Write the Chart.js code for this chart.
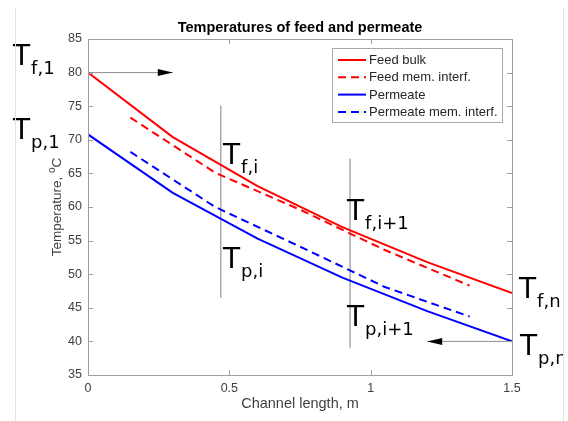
<!DOCTYPE html>
<html>
<head>
<meta charset="utf-8">
<title>Temperatures of feed and permeate</title>
<script src="https://cdn.jsdelivr.net/npm/chart.js@4.4.1/dist/chart.umd.min.js"></script>
<style>
  html, body { margin: 0; padding: 0; background: #fff; }
  #wrap { width: 568px; height: 421px; position: relative; }
</style>
</head>
<body>
<div id="wrap"><canvas id="tempChart" width="568" height="421"></canvas></div>
<script>
// Channel positions (m) and temperatures (°C)
const lengthBulk = [0, 0.3, 0.6, 0.9, 1.2, 1.5];
const feedBulk = [80, 70.4, 63.1, 57.0, 51.8, 47.2];
const permeateBulk = [70.8, 62.1, 55.3, 49.5, 44.5, 40.0];

const lengthInterf = [0.15, 0.45, 0.75, 1.05, 1.35];
const feedInterf = [73.3, 65.1, 59.6, 53.6, 48.3];
const permeateInterf = [68.2, 60.0, 54.1, 48.1, 43.7];

// Section boundaries i and i+1
const sectionX = [0.47, 0.927];
const sectionTop = [75.1, 67.2];
const sectionBottom = [46.5, 39.0];

// Flow direction arrows (feed in at x=0, permeate in at x=1.5)
const arrowFromX = [0, 1.5];
const arrowToX = [0.3, 1.2];
const arrowY = [80, 40];

const xTicks = [0, 0.5, 1, 1.5];
const yTicks = [35, 40, 45, 50, 55, 60, 65, 70, 75, 80, 85];

const pts = (xs, ys) => xs.map((x, i) => ({ x: x, y: ys[i] }));
const DASH = [8, 5];

const datasets = [
    { label: 'Feed bulk', data: pts(lengthBulk, feedBulk), borderColor: '#ff0000', borderWidth: 2 },
    { label: 'Feed mem. interf.', data: pts(lengthInterf, feedInterf), borderColor: '#ff0000', borderWidth: 2, borderDash: DASH },
    { label: 'Permeate', data: pts(lengthBulk, permeateBulk), borderColor: '#0000ff', borderWidth: 2 },
    { label: 'Permeate mem. interf.', data: pts(lengthInterf, permeateInterf), borderColor: '#0000ff', borderWidth: 2, borderDash: DASH }
];
const legendCount = datasets.length;

sectionX.forEach((x, i) => {
    datasets.push({ label: '', data: [{ x: x, y: sectionBottom[i] }, { x: x, y: sectionTop[i] }], borderColor: '#7f7f7f', borderWidth: 1 });
});
arrowFromX.forEach((x, i) => {
    datasets.push({ label: '', data: [{ x: x, y: arrowY[i] }, { x: arrowToX[i], y: arrowY[i] }], borderColor: '#8c8c8c', borderWidth: 1 });
});

const TXT = '#404040';
const FONT = '"Liberation Sans", Arial, sans-serif';

// Big T labels: [subscript, pixel x, baseline y]
const tLabels = [
    ['f,1', 13, 65], ['p,1', 13, 139],
    ['f,i', 223, 164], ['p,i', 223, 268],
    ['f,i+1', 347, 220], ['p,i+1', 347, 326],
    ['f,n', 519, 298], ['p,n', 520, 355]
];

const decor = {
    id: 'decor',
    afterDraw(chart) {
        const c = chart.ctx, a = chart.chartArea;
        const xs = chart.scales.x, ys = chart.scales.y;
        c.save();

        // axes box with inward ticks
        c.strokeStyle = '#9e9e9e';
        c.lineWidth = 1;
        c.strokeRect(a.left + 0.5, a.top + 0.5, a.right - a.left, a.bottom - a.top);
        c.beginPath();
        yTicks.forEach(v => {
            const y = Math.round(ys.getPixelForValue(v)) + 0.5;
            c.moveTo(a.left, y); c.lineTo(a.left + 5, y);
            c.moveTo(a.right, y); c.lineTo(a.right - 5, y);
        });
        xTicks.forEach(v => {
            const x = Math.round(xs.getPixelForValue(v)) + 0.5;
            c.moveTo(x, a.bottom); c.lineTo(x, a.bottom - 5);
            c.moveTo(x, a.top); c.lineTo(x, a.top + 5);
        });
        c.stroke();

        // arrow heads
        c.fillStyle = '#000';
        arrowToX.forEach((x, i) => {
            const tip = xs.getPixelForValue(x), y = ys.getPixelForValue(arrowY[i]);
            const dir = arrowToX[i] > arrowFromX[i] ? 1 : -1;
            c.beginPath();
            c.moveTo(tip, y);
            c.lineTo(tip - dir * 15, y - 3.5);
            c.lineTo(tip - dir * 15, y + 3.5);
            c.closePath();
            c.fill();
        });

        // title
        c.fillStyle = '#000';
        c.font = 'bold 14.5px ' + FONT;
        c.textAlign = 'center';
        c.textBaseline = 'middle';
        c.fillText('Temperatures of feed and permeate', (a.left + a.right) / 2, 28);

        // x axis title
        c.fillStyle = TXT;
        c.font = '14.5px ' + FONT;
        c.fillText('Channel length, m', (a.left + a.right) / 2, 404);

        // y axis title with superscript o
        c.save();
        c.translate(56, (a.top + a.bottom) / 2);
        c.rotate(-Math.PI / 2);
        c.textAlign = 'left';
        const p1 = 'Temperature, ';
        c.font = '13.5px ' + FONT;
        const w1 = c.measureText(p1).width;
        const wC = c.measureText('C').width;
        c.font = '10px ' + FONT;
        const wo = c.measureText('o').width;
        let x0 = -(w1 + wo + wC) / 2;
        c.font = '13.5px ' + FONT;
        c.fillText(p1, x0, 1);
        c.font = '10px ' + FONT;
        c.fillText('o', x0 + w1, -4);
        c.font = '13.5px ' + FONT;
        c.fillText('C', x0 + w1 + wo, 1);
        c.restore();

        // legend
        const lx = 332, ly = 48, lw = 170, lh = 74;
        c.fillStyle = '#fff';
        c.fillRect(lx, ly, lw, lh);
        c.strokeStyle = '#a8a8a8';
        c.strokeRect(lx + 0.5, ly + 0.5, lw, lh);
        c.font = '13px ' + FONT;
        c.textAlign = 'left';
        c.textBaseline = 'middle';
        for (let i = 0; i < legendCount; i++) {
            const ds = chart.data.datasets[i];
            const y = 60 + i * 17.3;
            c.beginPath();
            c.setLineDash(ds.borderDash || []);
            c.strokeStyle = ds.borderColor;
            c.lineWidth = 2;
            c.moveTo(338, y); c.lineTo(366, y);
            c.stroke();
            c.setLineDash([]);
            c.fillStyle = '#262626';
            c.fillText(ds.label, 369, y + 0.5);
        }

        // big temperature labels
        c.fillStyle = '#000';
        c.textBaseline = 'alphabetic';
        tLabels.forEach(t => {
            c.font = '28px "DejaVu Sans"';
            c.fillText('T', t[1], t[2]);
            const wT = c.measureText('T').width;
            c.font = '18px "DejaVu Sans"';
            c.fillText(t[0], t[1] + wT + 1, t[2] + 9);
        });

        // figure frame
        c.fillStyle = '#fff';
        c.fillRect(564, 0, 4, 421);
        c.strokeStyle = '#e2e2e2';
        c.lineWidth = 1;
        c.beginPath();
        c.moveTo(15.5, 8); c.lineTo(15.5, 421);
        c.moveTo(563.5, 8); c.lineTo(563.5, 421);
        c.stroke();
        c.restore();
    }
};

const ctx = document.getElementById('tempChart').getContext('2d');
const tempChart = new Chart(ctx, {
    type: 'line',
    data: { datasets: datasets },
    options: {
        responsive: false,
        animation: false,
        events: [],
        layout: { padding: { top: 39, right: 56, left: 0, bottom: 0 } },
        elements: { point: { radius: 0 }, line: { tension: 0 } },
        scales: {
            x: {
                type: 'linear',
                min: 0, max: 1.5,
                afterBuildTicks: s => { s.ticks = xTicks.map(v => ({ value: v })); },
                afterFit: s => { s.height = 46; },
                grid: { display: false, drawTicks: false },
                border: { display: false },
                ticks: { padding: 6, color: TXT, font: { family: FONT, size: 12.5 }, maxRotation: 0, callback: v => String(v) }
            },
            y: {
                min: 35, max: 85,
                afterBuildTicks: s => { s.ticks = yTicks.map(v => ({ value: v })); },
                afterFit: s => { s.width = 88; },
                grid: { display: false, drawTicks: false },
                border: { display: false },
                ticks: { padding: 6, color: TXT, font: { family: FONT, size: 12.5 }, callback: v => String(v) }
            }
        },
        plugins: {
            legend: { display: false },
            tooltip: { enabled: false }
        }
    },
    plugins: [decor]
});
</script>
</body>
</html>
